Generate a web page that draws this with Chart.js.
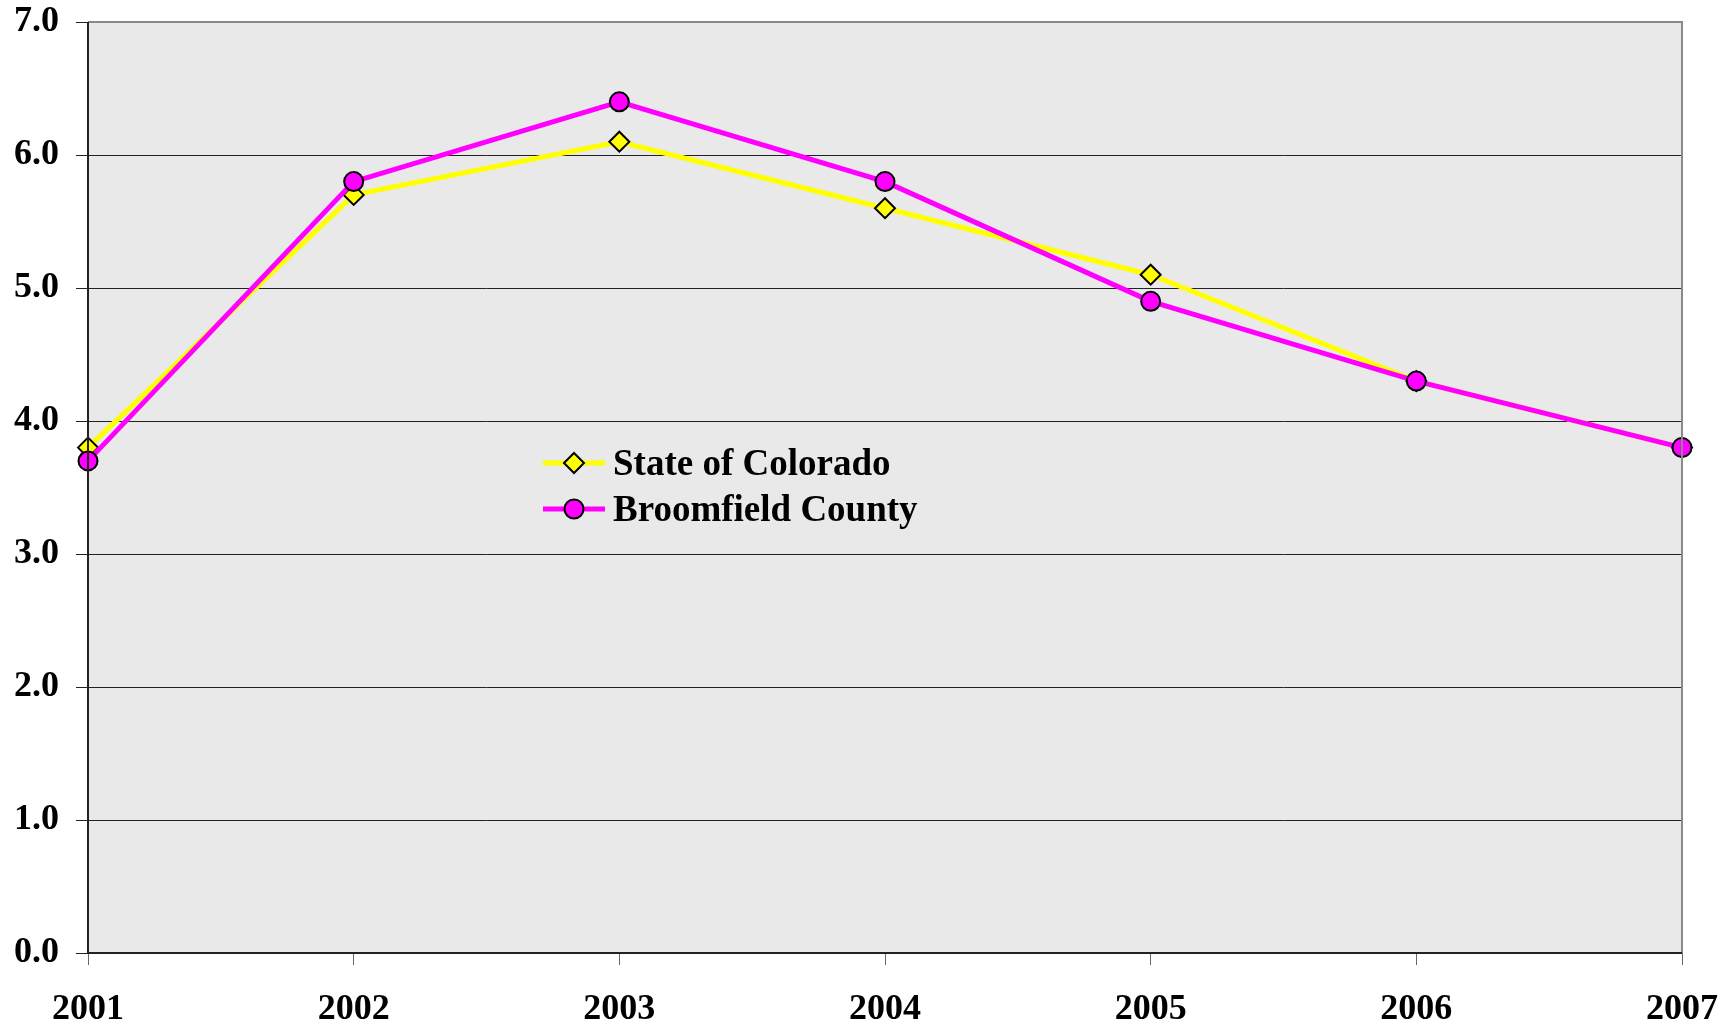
<!DOCTYPE html>
<html>
<head>
<meta charset="utf-8">
<script src="https://cdn.jsdelivr.net/npm/chart.js@4.4.1/dist/chart.umd.min.js"></script>
<style>
  html, body { margin: 0; padding: 0; background: #fff; }
  .wrap { width: 1732px; height: 1026px; position: relative; }
</style>
</head>
<body>
<div class="wrap"><canvas class="rate-chart"></canvas></div>
<script>
const years = ['2001', '2002', '2003', '2004', '2005', '2006', '2007']
const stateOfColorado = [3.8, 5.7, 6.1, 5.6, 5.1, 4.3, 3.8]
const broomfieldCounty = [3.7, 5.8, 6.4, 5.8, 4.9, 4.3, 3.8]
const yTicks = [0, 1, 2, 3, 4, 5, 6, 7]

const ctx = document.querySelector('.rate-chart')
const serif = "'Liberation Serif', 'Times New Roman', serif"

// grey plot background + frame lines
const plotBox = {
    id: 'plotBox',
    beforeDraw(chart) {
        const a = chart.chartArea
        const c = chart.ctx
        c.save()
        c.fillStyle = '#e9e9e9'
        c.fillRect(a.left, a.top, a.right - a.left, a.bottom - a.top)
        c.restore()
    },
    afterDraw(chart) {
        const a = chart.chartArea
        const c = chart.ctx
        c.save()
        c.lineWidth = 2
        c.strokeStyle = '#8a8a8a'
        c.beginPath()
        c.moveTo(a.left, a.top)
        c.lineTo(a.right, a.top)
        c.lineTo(a.right, a.bottom)
        c.stroke()
        c.strokeStyle = '#222'
        c.beginPath()
        c.moveTo(a.left, a.top)
        c.lineTo(a.left, a.bottom)
        c.lineTo(a.right, a.bottom)
        c.stroke()
        c.restore()
    }
}

// legend drawn inside the plot, like the original
const innerLegend = {
    id: 'innerLegend',
    afterDatasetsDraw(chart) {
        const c = chart.ctx
        const x0 = 543, x1 = 605, tx = 613
        const rows = [463, 509]
        const sets = [chart.data.datasets[1], chart.data.datasets[0]]
        c.save()
        sets.forEach((ds, i) => {
            const y = rows[i]
            c.strokeStyle = ds.borderColor
            c.lineWidth = ds.borderWidth
            c.beginPath()
            c.moveTo(x0, y)
            c.lineTo(x1, y)
            c.stroke()
            c.fillStyle = ds.pointBackgroundColor
            c.strokeStyle = ds.pointBorderColor
            c.lineWidth = ds.pointBorderWidth
            Chart.helpers.drawPoint(c, { pointStyle: ds.pointStyle, radius: ds.pointRadius, rotation: 0, borderWidth: ds.pointBorderWidth }, (x0 + x1) / 2, y)
            c.fillStyle = '#000'
            c.font = 'bold 37px ' + serif
            c.textBaseline = 'middle'
            c.fillText(ds.label, tx, y + 2)
        })
        c.restore()
    }
}

new Chart(ctx, {
    type: 'line',
    data: {
        labels: years,
        datasets: [{
            label: 'Broomfield County',
            data: broomfieldCounty,
            borderColor: '#ff00ff',
            borderWidth: 5,
            pointStyle: 'circle',
            pointRadius: 9.5,
            pointBackgroundColor: '#ff00ff',
            pointBorderColor: '#000',
            pointBorderWidth: 2,
            tension: 0,
            order: 0
        }, {
            label: 'State of Colorado',
            data: stateOfColorado,
            borderColor: '#ffff00',
            borderWidth: 5,
            pointStyle: 'rectRot',
            pointRadius: 10,
            pointBackgroundColor: '#ffff00',
            pointBorderColor: '#000',
            pointBorderWidth: 2,
            tension: 0,
            order: 1
        }]
    },
    options: {
        responsive: true,
        maintainAspectRatio: false,
        animation: false,
        layout: {
            padding: { top: 22, right: 50, left: 0, bottom: 0 }
        },
        scales: {
            x: {
                offset: false,
                border: { display: false },
                grid: {
                    display: true,
                    drawOnChartArea: false,
                    drawTicks: true,
                    tickLength: 12,
                    color: '#666'
                },
                ticks: {
                    color: '#000',
                    padding: 23,
                    maxRotation: 0,
                    font: { family: serif, size: 36, weight: 'bold' }
                },
                afterFit(scale) {
                    scale.height = 73
                    scale.paddingLeft = 0
                    scale.paddingRight = 0
                }
            },
            y: {
                min: 0,
                max: 7,
                border: { display: false },
                grid: {
                    color: '#222',
                    lineWidth: 1,
                    tickLength: 12
                },
                afterBuildTicks(scale) {
                    scale.ticks = yTicks.map(v => ({ value: v }))
                },
                ticks: {
                    color: '#000',
                    padding: 17,
                    font: { family: serif, size: 36, weight: 'bold' },
                    callback: v => v.toFixed(1)
                },
                afterFit(scale) {
                    scale.width = 88
                    scale.paddingTop = 0
                    scale.paddingBottom = 0
                }
            }
        },
        plugins: {
            legend: { display: false },
            tooltip: { enabled: false }
        }
    },
    plugins: [plotBox, innerLegend]
})
</script>
</body>
</html>
